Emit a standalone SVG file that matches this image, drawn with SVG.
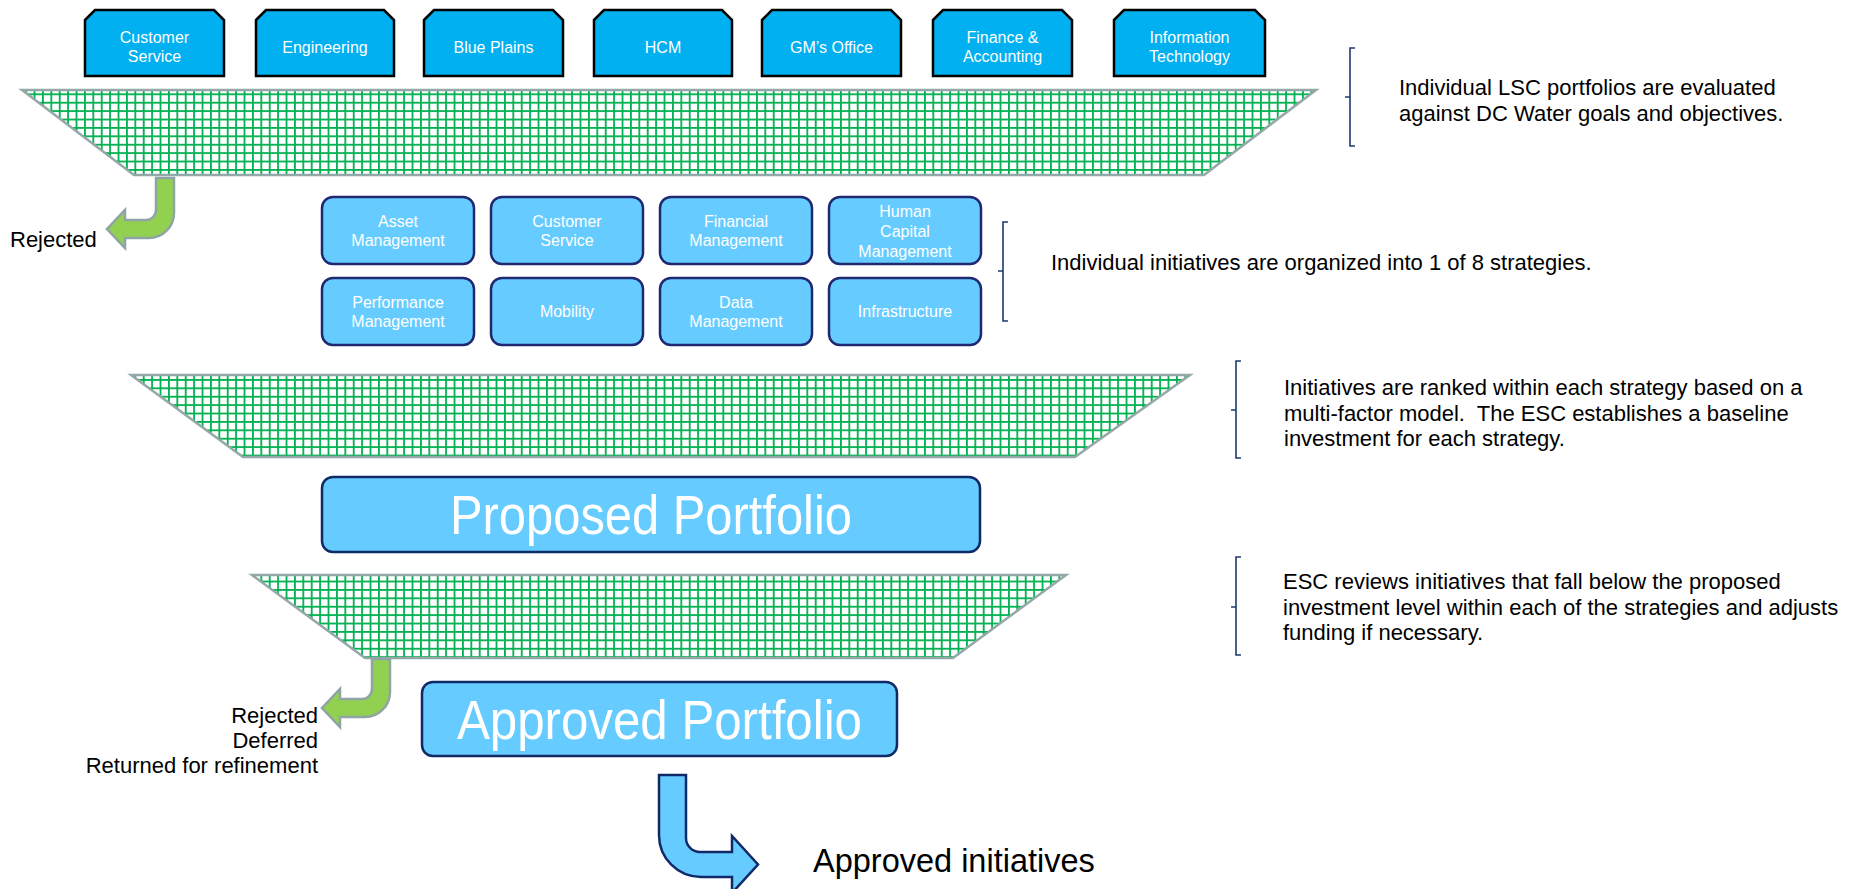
<svg xmlns="http://www.w3.org/2000/svg" width="1862" height="889" viewBox="0 0 1862 889">
<defs>
<pattern id="grid" patternUnits="userSpaceOnUse" width="8.4" height="8.4" x="0" y="1">
<rect width="8.4" height="8.4" fill="#ffffff"/>
<rect width="1.8" height="8.4" fill="#00B050"/>
<rect width="8.4" height="1.8" fill="#00B050"/>
</pattern>
<style>
.dept{fill:#00B0F0;stroke:#000;stroke-width:2.5;stroke-linejoin:miter}
.dtxt{font-family:"Liberation Sans",Arial,sans-serif;font-size:16px;fill:#fff;text-anchor:middle}
.strat{fill:#66CCFF;stroke:#1F2870;stroke-width:2.5}
.stxt{font-family:"Liberation Sans",Arial,sans-serif;font-size:16px;fill:#fff;text-anchor:middle}
.funnel{fill:url(#grid);stroke:#94A8A8;stroke-width:2.5}
.port{fill:#66CCFF;stroke:#0F2A66;stroke-width:2.5}
.ptxt{font-family:"Liberation Sans",Arial,sans-serif;font-size:55px;fill:#fff;text-anchor:middle}
.note{font-family:"Liberation Sans",Arial,sans-serif;font-size:22px;fill:#000}
.brk{fill:none;stroke:#1F3A6E;stroke-width:1.6}
.garrow{fill:#92D050;stroke:#8FA5A5;stroke-width:2.5;stroke-linejoin:miter}
.barrow{fill:#66CCFF;stroke:#0F2A66;stroke-width:2.5}
</style>
</defs>
<rect width="1862" height="889" fill="#fff"/>

<g id="dept-customer-service"><path class="dept" d="M85,20 L95,10 H214 L224,20 V76 H85 Z"/><text class="dtxt" x="154.5" y="43">Customer</text><text class="dtxt" x="154.5" y="62">Service</text></g>
<g id="dept-engineering"><path class="dept" d="M256,20 L266,10 H384 L394,20 V76 H256 Z"/><text class="dtxt" x="325" y="53">Engineering</text></g>
<g id="dept-blue-plains"><path class="dept" d="M424,20 L434,10 H553 L563,20 V76 H424 Z"/><text class="dtxt" x="493.5" y="53">Blue Plains</text></g>
<g id="dept-hcm"><path class="dept" d="M594,20 L604,10 H722 L732,20 V76 H594 Z"/><text class="dtxt" x="663" y="53">HCM</text></g>
<g id="dept-gm"><path class="dept" d="M762,20 L772,10 H891 L901,20 V76 H762 Z"/><text class="dtxt" x="831.5" y="53">GM’s Office</text></g>
<g id="dept-finance"><path class="dept" d="M933,20 L943,10 H1062 L1072,20 V76 H933 Z"/><text class="dtxt" x="1002.5" y="43">Finance &amp;</text><text class="dtxt" x="1002.5" y="62">Accounting</text></g>
<g id="dept-it"><path class="dept" d="M1114,20 L1124,10 H1255 L1265,20 V76 H1114 Z"/><text class="dtxt" x="1189.5" y="43">Information</text><text class="dtxt" x="1189.5" y="62">Technology</text></g>

<g id="funnel-1"><path class="funnel" d="M22,90 H1316 L1204,175 H134 Z"/></g>

<g id="strat-asset"><rect class="strat" x="322" y="197" width="152" height="67" rx="11"/><text class="stxt" x="398" y="227">Asset</text><text class="stxt" x="398" y="246">Management</text></g>
<g id="strat-customer"><rect class="strat" x="491" y="197" width="152" height="67" rx="11"/><text class="stxt" x="567" y="227">Customer</text><text class="stxt" x="567" y="246">Service</text></g>
<g id="strat-financial"><rect class="strat" x="660" y="197" width="152" height="67" rx="11"/><text class="stxt" x="736" y="227">Financial</text><text class="stxt" x="736" y="246">Management</text></g>
<g id="strat-hcm"><rect class="strat" x="829" y="197" width="152" height="67" rx="11"/><text class="stxt" x="905" y="217">Human</text><text class="stxt" x="905" y="237">Capital</text><text class="stxt" x="905" y="257">Management</text></g>
<g id="strat-performance"><rect class="strat" x="322" y="278" width="152" height="67" rx="11"/><text class="stxt" x="398" y="308">Performance</text><text class="stxt" x="398" y="327">Management</text></g>
<g id="strat-mobility"><rect class="strat" x="491" y="278" width="152" height="67" rx="11"/><text class="stxt" x="567" y="317">Mobility</text></g>
<g id="strat-data"><rect class="strat" x="660" y="278" width="152" height="67" rx="11"/><text class="stxt" x="736" y="308">Data</text><text class="stxt" x="736" y="327">Management</text></g>
<g id="strat-infra"><rect class="strat" x="829" y="278" width="152" height="67" rx="11"/><text class="stxt" x="905" y="317">Infrastructure</text></g>

<g id="funnel-2"><path class="funnel" d="M131,375 H1190 L1075,457 H243 Z"/></g>

<g id="proposed-portfolio"><rect class="port" x="322" y="477" width="658" height="75" rx="11"/><text class="ptxt" x="651" y="534" textLength="402" lengthAdjust="spacingAndGlyphs">Proposed Portfolio</text></g>

<g id="funnel-3"><path class="funnel" d="M252,575 H1066 L953,658 H365 Z"/></g>

<g id="approved-portfolio"><rect class="port" x="422" y="682" width="475" height="74" rx="11"/><text class="ptxt" x="659.5" y="739" textLength="405" lengthAdjust="spacingAndGlyphs">Approved Portfolio</text></g>

<g id="connectors">
<path class="garrow" d="M156,178 H174 V213 A25,25 0 0 1 149,238 H125 V248 L107,229 L125,210 V220 H146 A10,10 0 0 0 156,210 Z"/>
<path class="garrow" d="M372,659 H390 V692 A25,25 0 0 1 365,717 H340 V727 L322,708 L340,689 V699 H362 A10,10 0 0 0 372,689 Z"/>
<path class="barrow" d="M659,775 H686 V838 A14,14 0 0 0 700,852 H732 V836 L758,864.5 L732,893 V877 H701 A42,42 0 0 1 659,835 Z"/>
</g>

<g id="labels">
<text class="note" x="10" y="247">Rejected</text>
<text class="note" x="318" y="723" text-anchor="end">Rejected</text>
<text class="note" x="318" y="748" text-anchor="end">Deferred</text>
<text class="note" x="318" y="773" text-anchor="end">Returned for refinement</text>
<text class="note" x="813" y="872" style="font-size:32.5px">Approved initiatives</text>
</g>

<g id="note-1"><path class="brk" d="M1355,48 H1350 V146 H1355 M1350,97 H1345"/><text class="note" x="1399" y="95">Individual LSC portfolios are evaluated</text><text class="note" x="1399" y="121">against DC Water goals and objectives.</text></g>
<g id="note-2"><path class="brk" d="M1008,222 H1003 V321 H1008 M1003,271 H998"/><text class="note" x="1051" y="270">Individual initiatives are organized into 1 of 8 strategies.</text></g>
<g id="note-3"><path class="brk" d="M1241,361 H1236 V458 H1241 M1236,410 H1231"/><text class="note" x="1284" y="395">Initiatives are ranked within each strategy based on a</text><text class="note" x="1284" y="421">multi-factor model.&#160; The ESC establishes a baseline</text><text class="note" x="1284" y="446">investment for each strategy.</text></g>
<g id="note-4"><path class="brk" d="M1241,557 H1236 V655 H1241 M1236,607 H1231"/><text class="note" x="1283" y="589">ESC reviews initiatives that fall below the proposed</text><text class="note" x="1283" y="615">investment level within each of the strategies and adjusts</text><text class="note" x="1283" y="640">funding if necessary.</text></g>
</svg>
